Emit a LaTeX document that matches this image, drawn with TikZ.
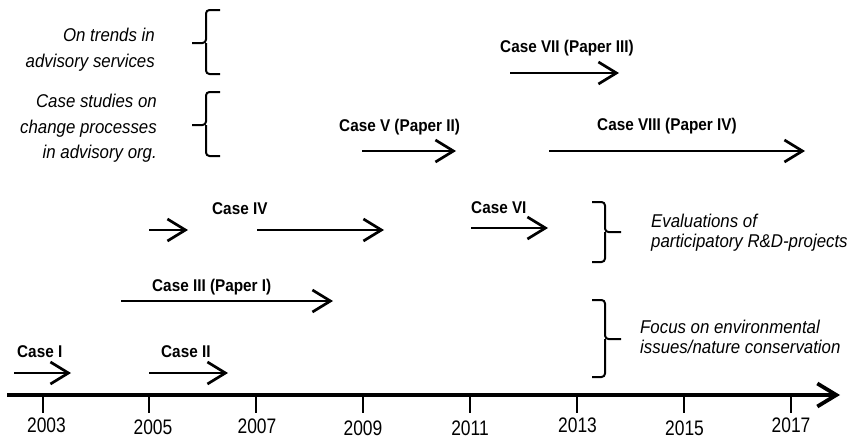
\documentclass[tikz,border=0pt]{standalone}
\usepackage{fontspec}
\setmainfont{Liberation Sans}
\newfontfamily\labelfont[FakeStretch=0.9]{Liberation Sans}
\newfontfamily\notefont[FakeStretch=0.91]{Liberation Sans}
\newfontfamily\yearfont[FakeStretch=0.83]{Liberation Sans}
\usetikzlibrary{arrows.meta}

\tikzset{
  caselabel/.style={font=\labelfont\bfseries\fontsize{17}{20}\selectfont, inner sep=0pt, anchor=base west},
  notetext/.style={font=\notefont\itshape\fontsize{18.5}{22}\selectfont, inner sep=0pt},
  yearlabel/.style={font=\yearfont\fontsize{21}{24}\selectfont, inner sep=0pt, anchor=base},
  period/.style={line width=2.7pt, -{Straight Barb[length=18pt,width=22pt]}},
  axisline/.style={line width=3.8pt, -{Straight Barb[length=19pt,width=23pt]}},
  brace/.style={line width=2pt, rounded corners=3.5pt},
  tickmark/.style={line width=2pt}
}

\begin{document}
\begin{tikzpicture}[x=1pt,y=-1pt]
\useasboundingbox (0,0) rectangle (857,439);

% time axis with yearly ticks
\coordinate (ax0) at (7,395);
\coordinate (ax1) at (840,395);
\draw[axisline] (ax0) -- (ax1);

\foreach \yr/\tx/\lx/\by in {2003/43/46.5/432, 2005/149/153/434, 2007/256/257/433,
    2009/363/363/435, 2011/470/470/435.5, 2013/577/577.5/432, 2015/684/684.5/435.5, 2017/791/791/432}{
  \coordinate (t\yr) at (\tx,395);
  \coordinate (b\yr) at (\tx,413);
  \draw[tickmark] (t\yr) -- (b\yr);
  \node[yearlabel] (y\yr) at (\lx,\by) {\yr};
}

% case periods
\coordinate (c1s) at (14,373);  \coordinate (c1e) at (71,373);
\coordinate (c2s) at (149,373); \coordinate (c2e) at (228,373);
\coordinate (c3s) at (121,301); \coordinate (c3e) at (333,301);
\coordinate (c4s) at (149,230); \coordinate (c4e) at (188,230);
\coordinate (c4t) at (257,230); \coordinate (c4f) at (384,230);
\coordinate (c5s) at (362,151); \coordinate (c5e) at (456,151);
\coordinate (c6s) at (471,228); \coordinate (c6e) at (548,228);
\coordinate (c7s) at (510,73);  \coordinate (c7e) at (619,73);
\coordinate (c8s) at (549,151); \coordinate (c8e) at (805,151);

\draw[period] (c1s) -- (c1e);
\draw[period] (c2s) -- (c2e);
\draw[period] (c3s) -- (c3e);
\draw[period] (c4s) -- (c4e);
\draw[period] (c4t) -- (c4f);
\draw[period] (c5s) -- (c5e);
\draw[period] (c6s) -- (c6e);
\draw[period] (c7s) -- (c7e);
\draw[period] (c8s) -- (c8e);

\node[caselabel] (l1) at (17,357) {Case I};
\node[caselabel] (l2) at (161,357) {Case II};
\node[caselabel] (l3) at (152,291) {Case III (Paper I)};
\node[caselabel] (l4) at (212,214) {Case IV};
\node[caselabel] (l5) at (339,131) {Case V (Paper II)};
\node[caselabel] (l6) at (471,213) {Case VI};
\node[caselabel] (l7) at (500,52) {Case VII (Paper III)};
\node[caselabel] (l8) at (597,130) {Case VIII (Paper IV)};

% group braces on the left
\draw[brace] (220,10) -| (206,43) -- (192,43);
\draw[brace] (220,74) -| (206,43);
\draw[brace] (220,92) -| (206,125) -- (192,125);
\draw[brace] (220,156) -| (206,125);

\node[notetext, anchor=base east] (g1a) at (155,41) {On trends in};
\node[notetext, anchor=base east] (g1b) at (155,67) {advisory services};
\node[notetext, anchor=base east] (g2a) at (157,107) {Case studies on};
\node[notetext, anchor=base east] (g2b) at (157,133) {change processes};
\node[notetext, anchor=base east] (g2c) at (157,158) {in advisory org.};

% group braces on the right
\draw[brace] (592,202) -| (605,232) -- (621,232);
\draw[brace] (592,262) -| (605,232);
\draw[brace] (592,300) -| (605,339) -- (621,339);
\draw[brace] (592,377) -| (605,339);

\node[notetext, anchor=base west] (g3a) at (651,227) {Evaluations of};
\node[notetext, anchor=base west] (g3b) at (651,247) {participatory R\&D-projects};
\node[notetext, anchor=base west] (g4a) at (640,333) {Focus on environmental};
\node[notetext, anchor=base west] (g4b) at (640,353) {issues/nature conservation};
\end{tikzpicture}
\end{document}
